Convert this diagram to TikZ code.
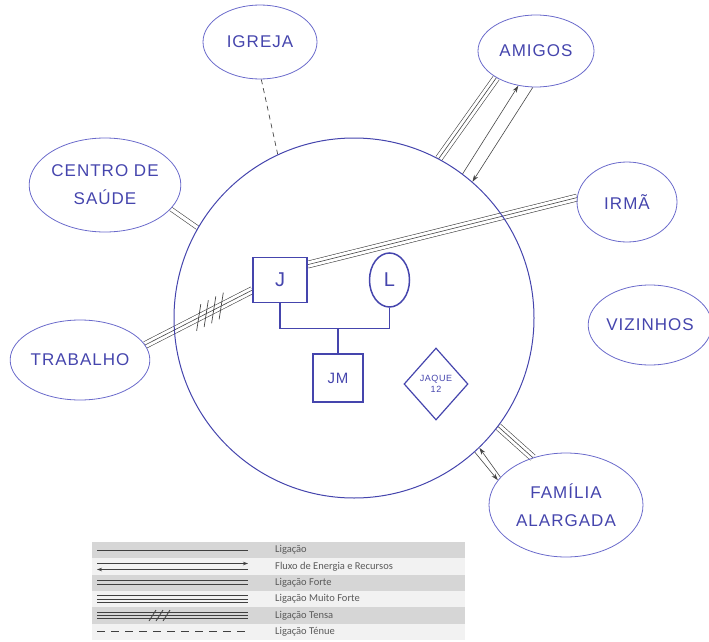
\documentclass[tikz,border=0pt]{standalone}
\usepackage{graphicx}
\usepackage{fontspec}
\setmainfont{Liberation Sans}
\newfontfamily\hand[LetterSpace=6]{Liberation Sans}
\newfontfamily\legfont{Carlito}
\usetikzlibrary{arrows.meta,positioning,shapes.geometric,decorations.markings,backgrounds}
\definecolor{ink}{HTML}{4545AD}
\definecolor{inkline}{HTML}{6A6ACB}
\definecolor{pencil}{HTML}{454545}
\definecolor{legdark}{HTML}{D6D6D6}
\definecolor{leglight}{HTML}{F2F2F2}
\definecolor{legtext}{HTML}{5A5A5A}
\definecolor{legline}{HTML}{404040}

\begin{document}
\begin{tikzpicture}[x=1pt, y=-1pt,
    sys/.style={ellipse, draw=inkline, line width=0.8pt, text=ink, align=center, inner sep=0pt,
                font=\hand\fontsize{17}{28}\selectfont},
    membro/.style={draw=ink, line width=1.5pt, text=ink, inner sep=0pt, font=\hand\fontsize{20}{20}\selectfont},
    gen/.style={draw=ink, line width=1.2pt},
    lig/.style={draw=pencil, line width=0.6pt},
    forte/.style={lig, double=white, double distance=3.4pt},
    muitoforte/.style={lig, preaction={draw=pencil, line width=0.6pt, double=white, double distance=6.4pt}},
    tensa/.style={muitoforte, postaction={decorate, decoration={markings,
        mark=between positions 0.5 and 0.72 step 0.07 with {\draw[pencil, line width=0.7pt] (-8pt,-11pt) -- (8pt,11pt);}}}},
    tenue/.style={lig, line width=0.7pt, dash pattern=on 5pt off 4pt},
    fluxo/.style={lig, -{Stealth[length=7pt, width=4.5pt]}},
    legtxt/.style={font=\legfont\fontsize{10.5}{12}\selectfont, text=legtext, anchor=west, inner sep=0pt},
    legln/.style={draw=legline, line width=1.1pt}
  ]
  \useasboundingbox (0,0) rectangle (709,642);
  \node[circle, draw=ink, line width=1pt, minimum size=360pt, inner sep=0pt] (nucleo) at (354,318) {};
  \node[sys, minimum width=114pt, minimum height=74pt] (igreja) at (260,42) {IGREJA};
  \node[sys, minimum width=116pt, minimum height=72pt] (amigos) at (536,51) {AMIGOS};
  \node[sys, minimum width=124pt, minimum height=94pt] (saude) at (105,185) {CENTRO DE\\SAÚDE};
  \node[sys, minimum width=100pt, minimum height=80pt] (irma) at (627,202) {IRMÃ};
  \node[sys, minimum width=134pt, minimum height=80pt] (trabalho) at (80,360) {TRABALHO};
  \node[sys, minimum width=114pt, minimum height=80pt] (vizinhos) at (650,325) {VIZINHOS};
  \node[sys, minimum width=154pt, minimum height=104pt] (alargada) at (566,505) {FAMÍLIA\\ALARGADA};
  \node[membro, minimum width=54pt, minimum height=45pt] (j) at (280,280) {J};
  \node[membro, ellipse, minimum width=40pt, minimum height=54pt, right=61pt of j] (l) {L};
  \node[membro, minimum width=50pt, minimum height=48pt, font=\hand\fontsize{15}{15}\selectfont] (jm) at (338,378) {JM};
  \node[membro, diamond, line width=1.2pt, minimum width=64pt, minimum height=72pt, align=center,
        font=\hand\fontsize{9}{11}\selectfont] (jaque) at (436,384) {JAQUE\\12};
  \draw[gen] (j.south) -- ++(0,25) coordinate (casal) -| (l.south);
  \draw[gen] (jm.north) -- (jm.north |- casal);
  \begin{pgfonlayer}{background}
    \draw[tenue] (igreja.272) -- (nucleo.115);
    \draw[forte] (saude.340) -- (nucleo.150);
    \draw[muitoforte] (nucleo.62) -- (amigos.214);
    \draw[fluxo] (nucleo.53) -- (amigos.243);
    \draw[fluxo] (amigos.265) -- (nucleo.49);
    \draw[muitoforte] (j.29) -- (irma.175);
    \draw[tensa] (trabalho.13) -- (j.200);
    \draw[muitoforte] (nucleo.323) -- (alargada.125);
    \draw[fluxo] (alargada.157) -- (nucleo.314);
    \draw[fluxo] (nucleo.312) -- (alargada.160);
  \end{pgfonlayer}
  \foreach \i/\txt [evaluate=\i as \yc using 550.2+16.3*(\i-1)] in
      {1/Ligação, 2/Fluxo de Energia e Recursos, 3/Ligação Forte, 4/Ligação Muito Forte, 5/Ligação Tensa, 6/Ligação Ténue} {
    \ifodd\i \def\rowcol{legdark}\else\def\rowcol{leglight}\fi
    \fill[\rowcol] (92,\yc-8.15) rectangle (465,\yc+8.15);
    \node[legtxt] (leg\i) at (275,\yc) {\txt};
    \coordinate (ls\i) at (97,\yc);
    \coordinate (le\i) at (248,\yc);
  }
  \draw[legln] (ls1) -- (le1);
  \draw[legln, -{Stealth[length=5pt, width=3.5pt]}] ([yshift=3pt]ls2) -- ([yshift=3pt]le2);
  \draw[legln, -{Stealth[length=5pt, width=3.5pt]}] ([yshift=-3pt]le2) -- ([yshift=-3pt]ls2);
  \foreach \d in {-2,2} \draw[legln] ([yshift=\d pt]ls3) -- ([yshift=\d pt]le3);
  \foreach \d in {-3.2,0,3.2} \draw[legln] ([yshift=\d pt]ls4) -- ([yshift=\d pt]le4);
  \foreach \d in {-3.2,0,3.2} \draw[legln] ([yshift=\d pt]ls5) -- ([yshift=\d pt]le5);
  \coordinate (lm5) at (152,615.5);
  \foreach \k in {0,1,2} \draw[legln, line width=0.8pt] ([shift={(\k*7-3,5.5)}]lm5) -- ++(7,-11);
  \draw[legln, line width=1.4pt, dash pattern=on 8pt off 6pt] (ls6) -- (le6);
\end{tikzpicture}
\end{document}
